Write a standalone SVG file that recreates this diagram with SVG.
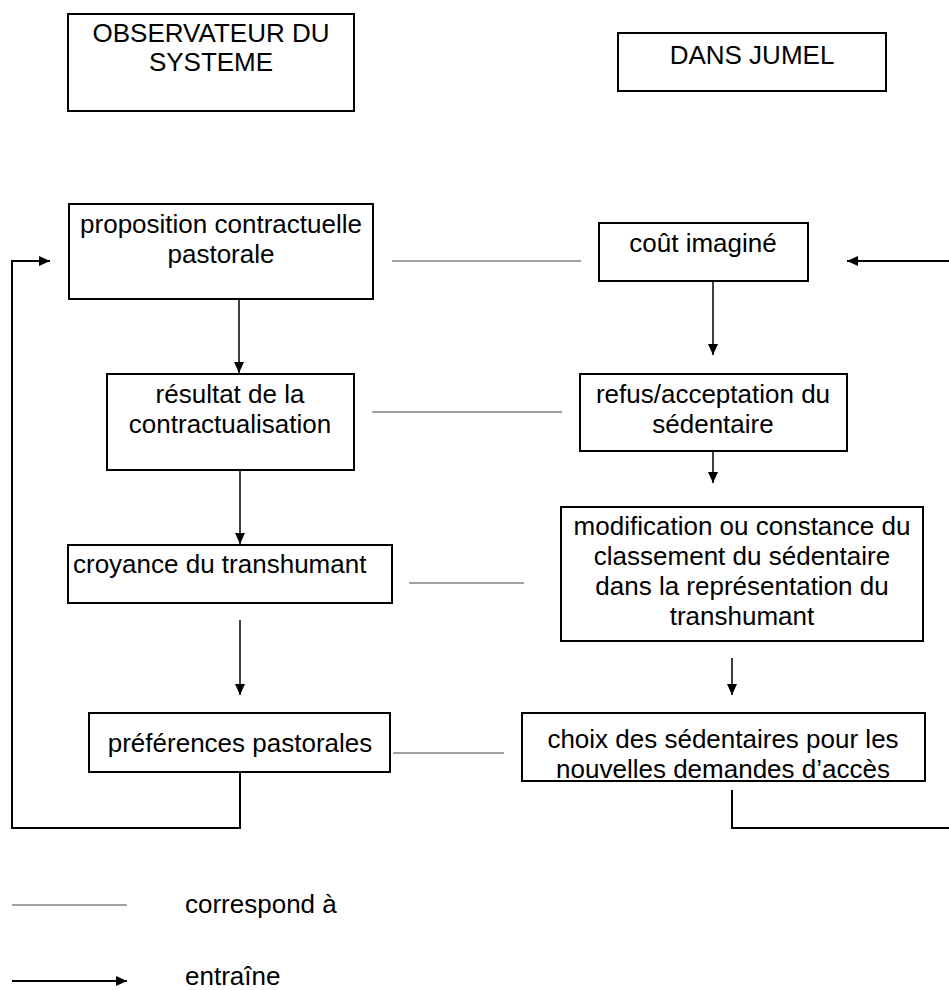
<svg xmlns="http://www.w3.org/2000/svg" width="949" height="990" viewBox="0 0 949 990">
<defs>
<marker id="ah" markerWidth="11" markerHeight="10" refX="11" refY="5" orient="auto" markerUnits="userSpaceOnUse">
<path d="M0,0 L11,5 L0,10 Z" fill="#000"/>
</marker>
<style>
.box{fill:#fff;stroke:#000;stroke-width:2}
.t{font-family:"Liberation Sans",Arial,sans-serif;font-size:26px;fill:#000;text-anchor:middle}
.lg{font-family:"Liberation Sans",Arial,sans-serif;font-size:26px;fill:#000}
.corr{stroke:#808080;stroke-width:1.5;fill:none}
.arr{stroke:#000;stroke-width:1.5;fill:none}
.fb{stroke:#000;stroke-width:2;fill:none}
</style>
</defs>
<rect width="949" height="990" fill="#fff"/>
<g id="observateur">
<rect class="box" x="68" y="14" width="286" height="97"/>
<text class="t" x="211" y="42">OBSERVATEUR DU</text>
<text class="t" x="211" y="71">SYSTEME</text>
</g>
<g id="jumel">
<rect class="box" x="618" y="33" width="268" height="58"/>
<text class="t" x="752" y="64">DANS JUMEL</text>
</g>
<g id="proposition">
<rect class="box" x="69" y="204" width="304" height="95"/>
<text class="t" x="221" y="233">proposition contractuelle</text>
<text class="t" x="221" y="263">pastorale</text>
</g>
<g id="cout">
<rect class="box" x="599" y="223" width="209" height="58"/>
<text class="t" x="703" y="252">coût imaginé</text>
</g>
<g id="resultat">
<rect class="box" x="107" y="374" width="247" height="96"/>
<text class="t" x="230" y="403">résultat de la</text>
<text class="t" x="230" y="433">contractualisation</text>
</g>
<g id="refus">
<rect class="box" x="580" y="374" width="267" height="77"/>
<text class="t" x="713" y="403">refus/acceptation du</text>
<text class="t" x="713" y="433">sédentaire</text>
</g>
<g id="croyance">
<rect class="box" x="68" y="545" width="324" height="58"/>
<text class="lg" x="73" y="573">croyance du transhumant</text>
</g>
<g id="modification">
<rect class="box" x="561" y="507" width="362" height="134"/>
<text class="t" x="742" y="535">modification ou constance du</text>
<text class="t" x="742" y="565">classement du sédentaire</text>
<text class="t" x="742" y="595">dans la représentation du</text>
<text class="t" x="742" y="625">transhumant</text>
</g>
<g id="preferences">
<rect class="box" x="89" y="713" width="301" height="59"/>
<text class="t" x="240" y="752">préférences pastorales</text>
</g>
<g id="choix">
<rect class="box" x="522" y="713" width="403" height="68"/>
<text class="t" x="723" y="748">choix des sédentaires pour les</text>
<text class="t" x="723" y="778">nouvelles demandes d’accès</text>
</g>
<g id="connectors">
<line class="corr" x1="392" y1="261" x2="581" y2="261"/>
<line class="corr" x1="372" y1="412" x2="562" y2="412"/>
<line class="corr" x1="409" y1="583" x2="524" y2="583"/>
<line class="corr" x1="393" y1="753" x2="504" y2="753"/>
<line class="arr" x1="239" y1="299" x2="239" y2="373" marker-end="url(#ah)"/>
<line class="arr" x1="713" y1="281" x2="713" y2="355" marker-end="url(#ah)"/>
<line class="arr" x1="240" y1="470" x2="240" y2="544" marker-end="url(#ah)"/>
<line class="arr" x1="713" y1="451" x2="713" y2="483" marker-end="url(#ah)"/>
<line class="arr" x1="240" y1="620" x2="240" y2="695" marker-end="url(#ah)"/>
<line class="arr" x1="732" y1="658" x2="732" y2="695" marker-end="url(#ah)"/>
<polyline class="fb" points="240,772 240,828 12,828 12,261 50,261" marker-end="url(#ah)"/>
<polyline class="fb" points="732,790 732,828 949,828"/>
<line class="fb" x1="949" y1="261" x2="847" y2="261" marker-end="url(#ah)"/>
</g>
<g id="legend">
<line class="corr" x1="12" y1="905" x2="127" y2="905"/>
<text class="lg" x="185" y="913">correspond à</text>
<line class="fb" x1="12" y1="981" x2="127" y2="981" marker-end="url(#ah)"/>
<text class="lg" x="185" y="985">entraîne</text>
</g>
</svg>
